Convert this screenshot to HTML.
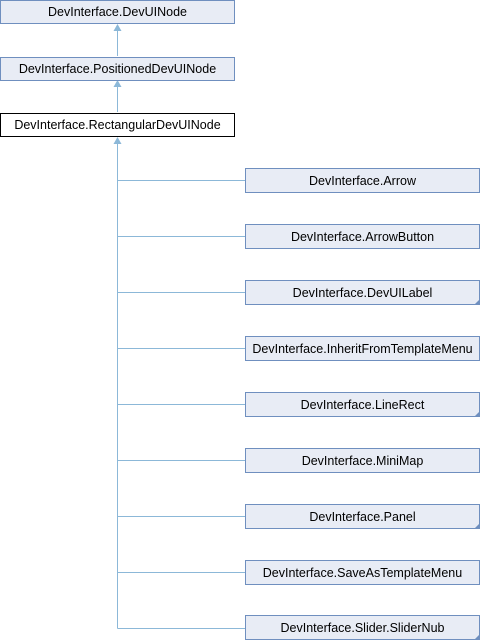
<!DOCTYPE html>
<html><head><style>body{margin:0;background:#fff}svg{display:block}text{font-family:"Liberation Sans",sans-serif;font-size:12.5px;fill:#000}</style></head><body>
<svg width="480" height="640" xmlns="http://www.w3.org/2000/svg">
<g stroke="#8cb8d8" stroke-width="1" fill="none">
<line x1="117.5" y1="30" x2="117.5" y2="56"/>
<line x1="117.5" y1="86" x2="117.5" y2="112"/>
<line x1="117.5" y1="143" x2="117.5" y2="628.5"/>
<line x1="117.5" y1="180.5" x2="245" y2="180.5"/>
<line x1="117.5" y1="236.5" x2="245" y2="236.5"/>
<line x1="117.5" y1="292.5" x2="245" y2="292.5"/>
<line x1="117.5" y1="348.5" x2="245" y2="348.5"/>
<line x1="117.5" y1="404.5" x2="245" y2="404.5"/>
<line x1="117.5" y1="460.5" x2="245" y2="460.5"/>
<line x1="117.5" y1="516.5" x2="245" y2="516.5"/>
<line x1="117.5" y1="572.5" x2="245" y2="572.5"/>
<line x1="117.5" y1="628.5" x2="245" y2="628.5"/>
</g>
<g fill="#8cb8d8">
<polygon points="117.5,24 113.5,31 121.5,31"/>
<polygon points="117.5,80 113.5,87 121.5,87"/>
<polygon points="117.5,137 113.5,144 121.5,144"/>
</g>
<g fill="#e8ecf5" stroke="#6f8fbf">
<rect x="0.5" y="0.5" width="234" height="23"/>
<rect x="0.5" y="57.5" width="234" height="23"/>
<rect x="0.5" y="113.5" width="234" height="23" fill="#fff" stroke="#000"/>
<rect x="245.5" y="168.5" width="234" height="24"/>
<rect x="245.5" y="224.5" width="234" height="24"/>
<rect x="245.5" y="280.5" width="234" height="24"/>
<rect x="245.5" y="336.5" width="234" height="24"/>
<rect x="245.5" y="392.5" width="234" height="24"/>
<rect x="245.5" y="448.5" width="234" height="24"/>
<rect x="245.5" y="504.5" width="234" height="24"/>
<rect x="245.5" y="560.5" width="234" height="24"/>
<rect x="245.5" y="615.5" width="234" height="24"/>
</g>
<g fill="#6f8fbf">
<polygon points="480,299 480,305 474,305"/>
<polygon points="480,411 480,417 474,417"/>
<polygon points="480,523 480,529 474,529"/>
<polygon points="480,634 480,640 474,640"/>
</g>
<g text-anchor="middle">
<text x="117.5" y="16">DevInterface.DevUINode</text>
<text x="117.5" y="73">DevInterface.PositionedDevUINode</text>
<text x="117.5" y="129">DevInterface.RectangularDevUINode</text>
<text x="362.5" y="185">DevInterface.Arrow</text>
<text x="362.5" y="241">DevInterface.ArrowButton</text>
<text x="362.5" y="297">DevInterface.DevUILabel</text>
<text x="362.5" y="353">DevInterface.InheritFromTemplateMenu</text>
<text x="362.5" y="409">DevInterface.LineRect</text>
<text x="362.5" y="465">DevInterface.MiniMap</text>
<text x="362.5" y="521">DevInterface.Panel</text>
<text x="362.5" y="577">DevInterface.SaveAsTemplateMenu</text>
<text x="362.5" y="632">DevInterface.Slider.SliderNub</text>
</g>
</svg>
</body></html>
